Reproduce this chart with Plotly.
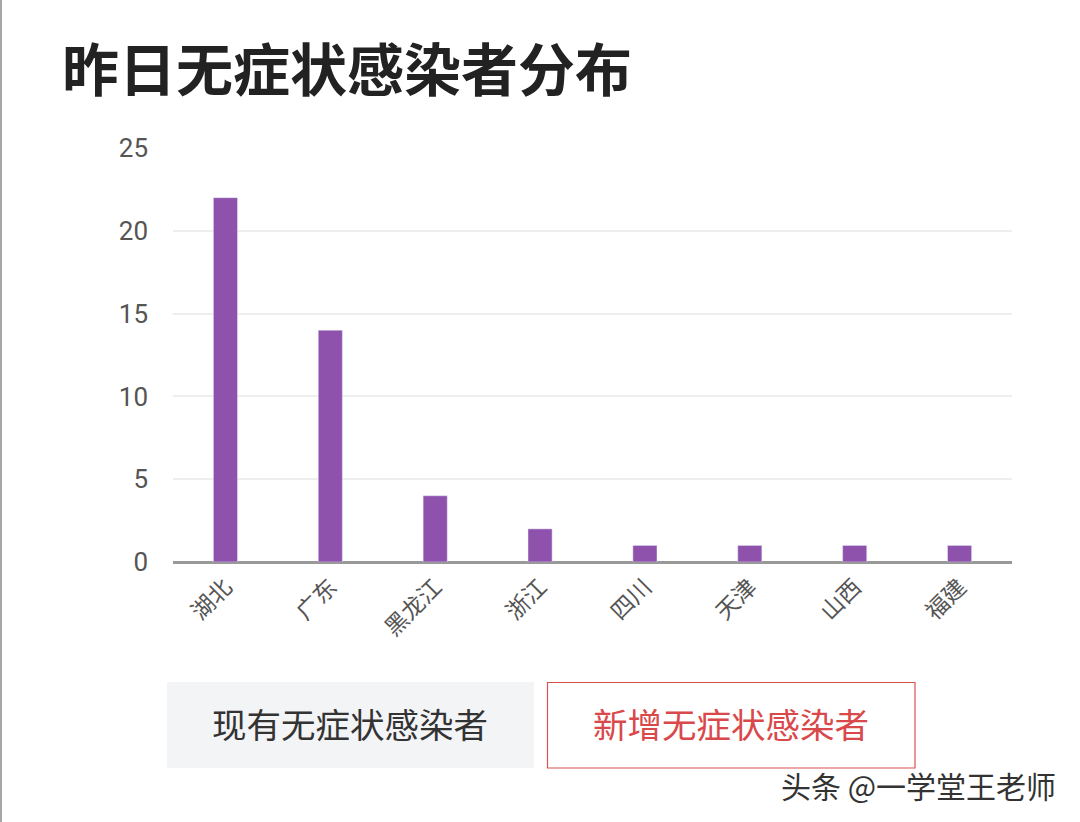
import plotly.graph_objects as go

provinces = ["湖北", "广东", "黑龙江", "浙江", "四川", "天津", "山西", "福建"]
cases = [22, 14, 4, 2, 1, 1, 1, 1]
y_ticks = [0, 5, 10, 15, 20, 25]

W, H = 1080, 822
L, R, T, B = 173, 1012, 148, 562

def px(x):
    return (x - L) / (R - L)

def py(y):
    return (B - y) / (B - T)

fig = go.Figure(go.Bar(
    x=provinces, y=cases, marker_color="#8e52ad", width=0.23,
    hoverinfo="x+y",
))

font_cjk = "Roboto, 'Noto Sans CJK SC', sans-serif"

fig.update_layout(
    width=W, height=H,
    margin=dict(l=L, r=W - R, t=T, b=H - B, pad=0),
    paper_bgcolor="white", plot_bgcolor="white",
    showlegend=False,
    font=dict(family=font_cjk, color="#555555"),
    xaxis=dict(
        tickangle=-45, tickfont=dict(size=23, color="#555555", family="'Noto Sans CJK SC'"),
        showgrid=False, showline=False, ticks="", ticklen=0, ticklabelstandoff=6,
        fixedrange=True,
    ),
    yaxis=dict(
        range=[0, 25], tickvals=y_ticks, tickfont=dict(size=26, color="#555555", family="Roboto"),
        showgrid=True, gridcolor="#eeeeee", gridwidth=2,
        zeroline=True, zerolinecolor="#999999", zerolinewidth=3,
        ticks="", ticklabelstandoff=24, fixedrange=True,
    ),
)

shapes = [
    dict(type="line", xref="paper", yref="paper", x0=px(1), x1=px(1), y0=py(0), y1=py(H),
         line=dict(color="#888888", width=1.5)),
    dict(type="rect", xref="paper", yref="paper", x0=px(167), x1=px(534), y0=py(768), y1=py(682),
         fillcolor="#f3f4f6", line=dict(width=0), layer="below"),
    dict(type="rect", xref="paper", yref="paper", x0=px(547.5), x1=px(915), y0=py(768), y1=py(682.5),
         fillcolor="white", line=dict(color="#d9534f", width=1.2)),
]
fig.update_layout(shapes=shapes)

ann = [
    dict(text="<b>昨日无症状感染者分布</b>", x=px(60), y=py(66), xanchor="left", yanchor="middle",
         font=dict(size=57, color="#222222", family="'Noto Sans CJK SC'")),
    dict(text="现有无症状感染者", x=px(350), y=py(723), xanchor="center", yanchor="middle",
         font=dict(size=34.5, color="#333333", family="'Noto Sans CJK SC'")),
    dict(text="新增无症状感染者", x=px(731), y=py(723), xanchor="center", yanchor="middle",
         font=dict(size=34.5, color="#d9484a", family="'Noto Sans CJK SC'")),
    dict(text="头条 @一学堂王老师", x=px(1058), y=py(785), xanchor="right", yanchor="middle",
         font=dict(size=30, color="#333333", family="'Noto Sans CJK SC'")),
]
for a in ann:
    a.update(xref="paper", yref="paper", showarrow=False)
fig.update_layout(annotations=ann)

fig.write_html("out.html")
